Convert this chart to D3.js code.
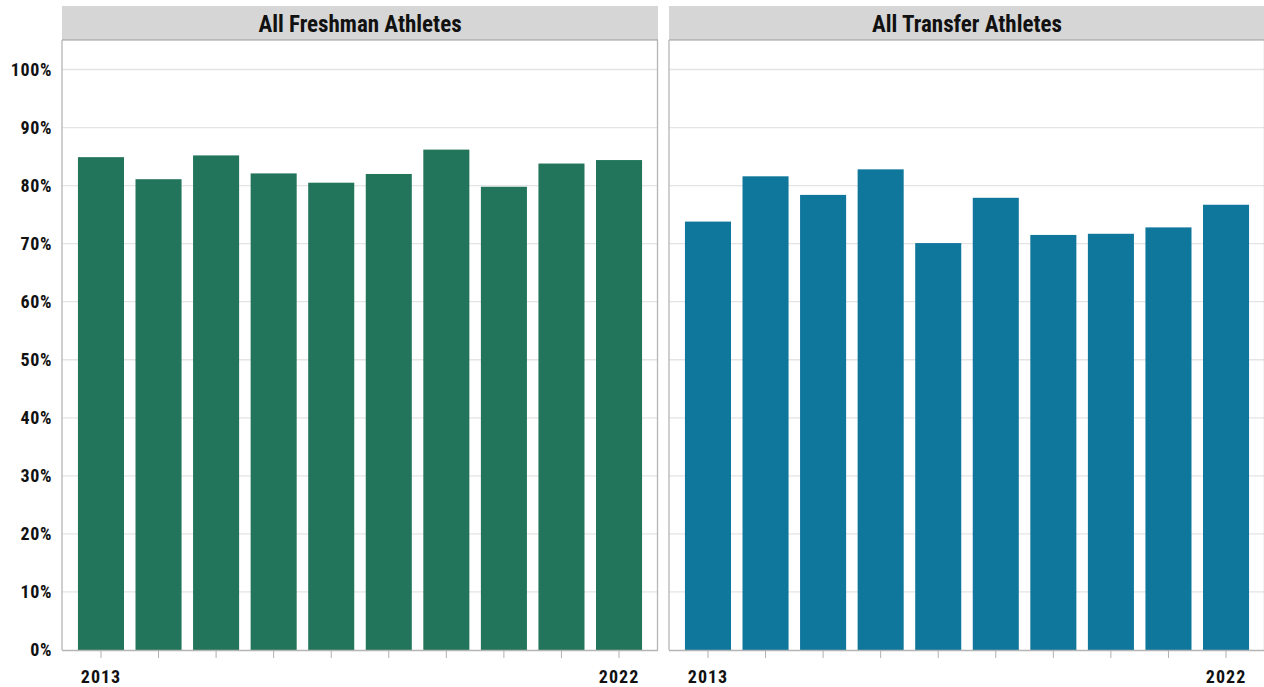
<!DOCTYPE html>
<html><head><meta charset="utf-8">
<script src="https://cdn.jsdelivr.net/npm/d3@7"></script>
<style>
body{margin:0;background:#fff;}
svg{display:block;font-family:"Roboto Condensed","Liberation Sans Narrow","Arial Narrow",sans-serif;}
</style></head><body>
<svg id="c" width="1264" height="687"></svg>
<script>
const years = ["2013","2014","2015","2016","2017","2018","2019","2020","2021","2022"];
const panelTitles = ["All Freshman Athletes","All Transfer Athletes"];
const freshmanValues = [84.9,81.1,85.2,82.1,80.5,82.0,86.2,79.8,83.8,84.4];
const transferValues = [73.8,81.6,78.4,82.8,70.1,77.9,71.5,71.7,72.8,76.7];
const yTicks = [0,10,20,30,40,50,60,70,80,90,100];
const shownYearLabels = ["2013","2022"];
const colors = ["#22745a","#0f769c"];

const svg = d3.select("#c");
const plotTop = 40, plotBottom = 650, headerTop = 6;
const fontFam = "'Roboto Condensed','Liberation Sans Narrow',sans-serif";
const panels = [
  {x0:62, x1:658, title:panelTitles[0], values:freshmanValues, color:colors[0]},
  {x0:669, x1:1265, title:panelTitles[1], values:transferValues, color:colors[1]}
];
const y = d3.scaleLinear().domain([0,100]).range([plotBottom, 69.5]);

// y axis labels
const yAxis = d3.axisLeft(y).tickValues(yTicks).tickFormat(d=>d+"%").tickSize(0).tickPadding(10);
const ya = svg.append("g").attr("transform",`translate(${panels[0].x0},0)`).call(yAxis);
ya.select(".domain").remove();
ya.selectAll("text").attr("font-size",18).attr("font-weight","bold").attr("fill","#111")
  .attr("letter-spacing","0.6px").attr("font-family",fontFam);

panels.forEach(p=>{
  const g = svg.append("g");
  // header
  g.append("rect").attr("x",p.x0).attr("y",headerTop).attr("width",p.x1-p.x0).attr("height",plotTop-headerTop)
    .attr("fill","#d6d6d6");
  g.append("line").attr("x1",p.x0).attr("x2",p.x1).attr("y1",plotTop).attr("y2",plotTop).attr("stroke","#9a9a9a").attr("stroke-width",1);
  g.append("text").attr("x",(p.x0+p.x1)/2).attr("y",headerTop+26).attr("text-anchor","middle")
    .attr("font-size",23).attr("font-weight","bold").attr("fill","#111").attr("font-family",fontFam).text(p.title);
  // gridlines
  g.selectAll(".grid").data(yTicks.filter(d=>d>0)).join("line")
    .attr("x1",p.x0).attr("x2",p.x1).attr("y1",d=>y(d)).attr("y2",d=>y(d))
    .attr("stroke","#e4e4e4").attr("stroke-width",1.3);
  // x scale
  const x = d3.scaleBand().domain(years).range([p.x0,p.x1]).paddingInner(0.2).paddingOuter(0.277);
  g.selectAll(".bar").data(years).join("rect")
    .attr("x",d=>x(d)).attr("width",x.bandwidth())
    .attr("y",(d,i)=>y(p.values[i])).attr("height",(d,i)=>plotBottom-y(p.values[i]))
    .attr("fill",p.color);
  // borders
  g.append("line").attr("x1",p.x0).attr("x2",p.x0).attr("y1",plotTop).attr("y2",plotBottom).attr("stroke","#b5b5b5").attr("stroke-width",1.3);
  g.append("line").attr("x1",p.x1-0.5).attr("x2",p.x1-0.5).attr("y1",plotTop).attr("y2",plotBottom).attr("stroke","#b5b5b5").attr("stroke-width",1.3);
  // x axis
  const xAxis = d3.axisBottom(x).tickSize(8).tickPadding(12).tickFormat(d=>shownYearLabels.includes(d)?d:"");
  const xa = g.append("g").attr("transform",`translate(0,${plotBottom})`).call(xAxis);
  xa.select(".domain").attr("d",`M${p.x0},0.5H${p.x1}`).attr("stroke","#b5b5b5").attr("stroke-width",1.3);
  xa.selectAll(".tick line").attr("stroke","#b0b0b0");
  xa.selectAll("text").attr("font-size",18).attr("font-weight","bold").attr("fill","#111")
    .attr("letter-spacing","1px").attr("font-family",fontFam);
});
</script>
</body></html>
